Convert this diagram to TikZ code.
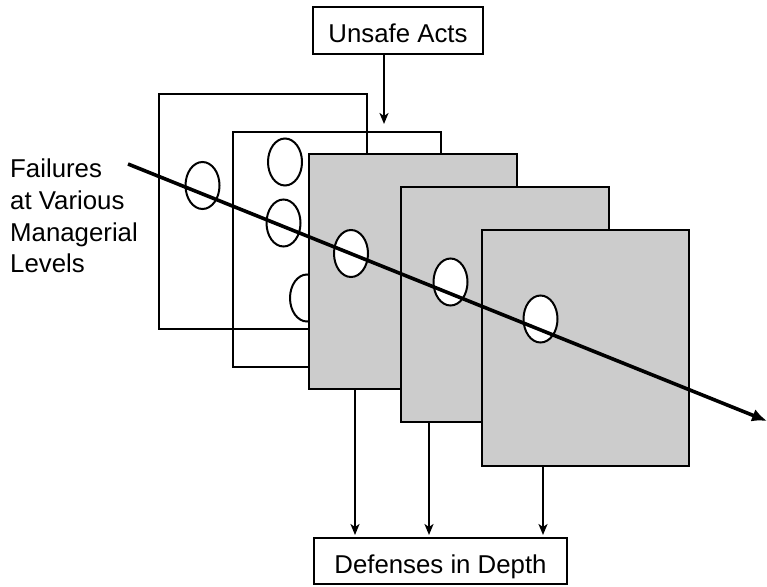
\documentclass[tikz,border=0pt]{standalone}
\usepackage{fontspec}
\setmainfont{Liberation Sans}
\usetikzlibrary{shapes.geometric,arrows.meta}
\definecolor{plategray}{HTML}{CCCCCC}
\begin{document}
\begin{tikzpicture}[x=1pt,y=-1pt,
  plate/.style={draw, line width=2.4pt, minimum width=208pt, minimum height=235pt,
    inner sep=0pt, outer sep=0pt, anchor=north west},
  grayplate/.style={plate, fill=plategray},
  hole/.style={draw, ellipse, fill=white, line width=2pt, minimum width=34pt,
    minimum height=47pt, inner sep=0pt},
  labelbox/.style={draw, line width=2pt, inner sep=0pt, outer sep=0pt,
    font=\fontsize{25.8}{31}\selectfont, text height=25pt, text depth=0pt},
  darr/.style={line width=2pt, -{Stealth[length=11pt,width=9pt,inset=3pt]}},
  bigarr/.style={line width=3.6pt, -{Latex[length=15pt,width=13pt]}}
]
\useasboundingbox (0,0) rectangle (767,586);

% top label
\node[labelbox, minimum width=170pt, minimum height=47pt] (ua) at (398,30.5) {Unsafe Acts};
\coordinate (uatip) at (384,124);
\draw[darr] (ua.south -| uatip) -- (uatip);

% plates
\node[plate] (p1) at (159,94) {};
\node[hole] (h1) at (202.5,185.5) {};
\node[plate] (p2) at (233,132) {};
\node[hole] (h2a) at (285,162) {};
\node[hole] (h2b) at (283.5,223) {};
\node[hole] (h2c) at (307,298) {};
\node[grayplate] (p3) at (309,154) {};
\node[hole] (h3) at (351,253.5) {};
\node[grayplate] (p4) at (401,187) {};
\node[hole] (h4) at (450.5,282) {};
\node[grayplate, minimum width=207pt, minimum height=236pt] (p5) at (482,230) {};
\node[hole] (h5) at (540.5,319) {};

% left label
\node[anchor=north west, align=left, inner sep=0pt,
  font=\fontsize{25.8}{31.7}\selectfont] (fail) at (10,159)
  {Failures\\at Various\\Managerial\\Levels};

% trajectory
\coordinate (trs) at (128,164);
\coordinate (tre) at (767,421);
\draw[bigarr] (trs) -- (tre);

% bottom label
\node[labelbox, minimum width=253pt, minimum height=46pt] (def) at (440.5,561) {Defenses in Depth};
\coordinate (a3) at (355,0);
\coordinate (a4) at (429,0);
\coordinate (a5) at (543,0);
\draw[darr, shorten >=3pt] (a3 |- p3.south) -- (a3 |- def.north);
\draw[darr, shorten >=3pt] (a4 |- p4.south) -- (a4 |- def.north);
\draw[darr, shorten >=3pt] (a5 |- p5.south) -- (a5 |- def.north);
\end{tikzpicture}
\end{document}
